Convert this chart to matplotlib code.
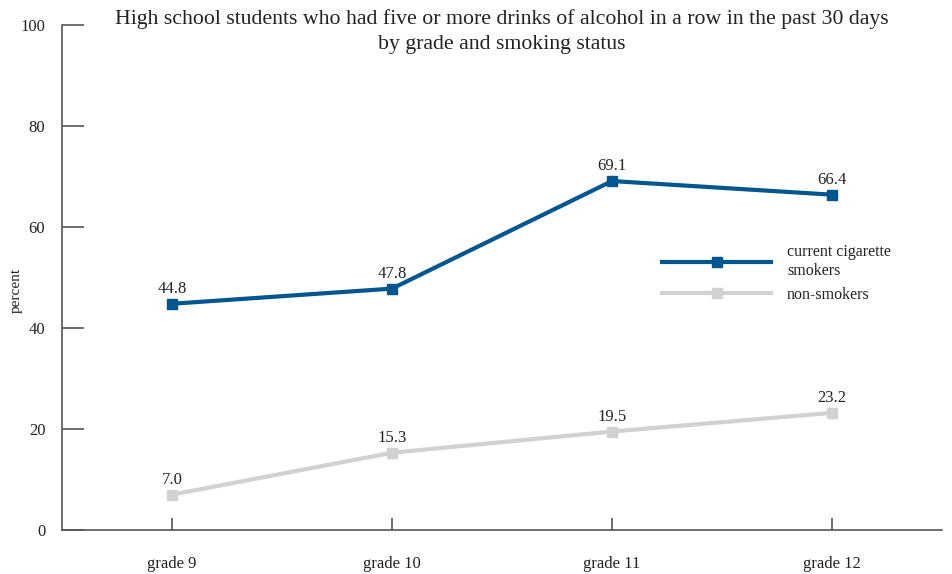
import matplotlib.pyplot as plt

plt.rcParams['font.family'] = ['Liberation Serif', 'DejaVu Serif']

grades = ['grade 9', 'grade 10', 'grade 11', 'grade 12']
smokers = [44.8, 47.8, 69.1, 66.4]
non_smokers = [7.0, 15.3, 19.5, 23.2]
y_ticks = [0, 20, 40, 60, 80, 100]

blue = '#00568f'
grey = '#d1d1d1'
txt = '#222222'

fig = plt.figure(figsize=(9.52, 5.74), dpi=100)
ax = fig.add_axes([62 / 952, 44 / 574, 880 / 952, 505 / 574])

xs = range(len(grades))
ax.plot(xs, smokers, color=blue, lw=3, marker='s', ms=7,
        label='current cigarette\nsmokers')
ax.plot(xs, non_smokers, color=grey, lw=3, marker='s', ms=7,
        label='non-smokers')

# value labels above each point
for x, v in zip(xs, smokers):
    ax.annotate(f'{v:.1f}', (x, v), xytext=(0, 5), textcoords='offset points',
                ha='center', va='bottom', fontsize=12, color=txt)
for x, v in zip(xs, non_smokers):
    ax.annotate(f'{v:.1f}', (x, v), xytext=(0, 5), textcoords='offset points',
                ha='center', va='bottom', fontsize=12, color=txt)

ax.set_xlim(-0.5, 3.5)
ax.set_ylim(0, 100)
ax.set_xticks(list(xs))
ax.set_xticklabels(grades)
ax.set_yticks(y_ticks)

for s in ['top', 'right']:
    ax.spines[s].set_visible(False)
for s in ['left', 'bottom']:
    ax.spines[s].set_color('#555555')
    ax.spines[s].set_linewidth(1.2)

ax.tick_params(axis='y', direction='in', length=16, width=1.2, color='#555555',
               pad=12, labelsize=12, labelcolor=txt)
ax.tick_params(axis='x', direction='in', length=8.5, width=1.2, color='#555555',
               pad=19, labelsize=12, labelcolor=txt)

ax.set_ylabel('percent', fontsize=11, color=txt)
ax.yaxis.set_label_coords(-0.045, 0.475)

ax.text(0.5, 1.0 + 16 / 505, 'High school students who had five or more drinks of alcohol in a row in the past 30 days\nby grade and smoking status',
        transform=ax.transAxes, ha='center', va='top',
        fontsize=15.7, color=txt, linespacing=1.4)

ax.legend(loc='upper left', bbox_to_anchor=(0.666, 0.594), frameon=False,
          fontsize=11.5, handlelength=6.8, handletextpad=1.0, labelspacing=0.5,
          labelcolor=txt)

fig.savefig('out.png', dpi=100)
